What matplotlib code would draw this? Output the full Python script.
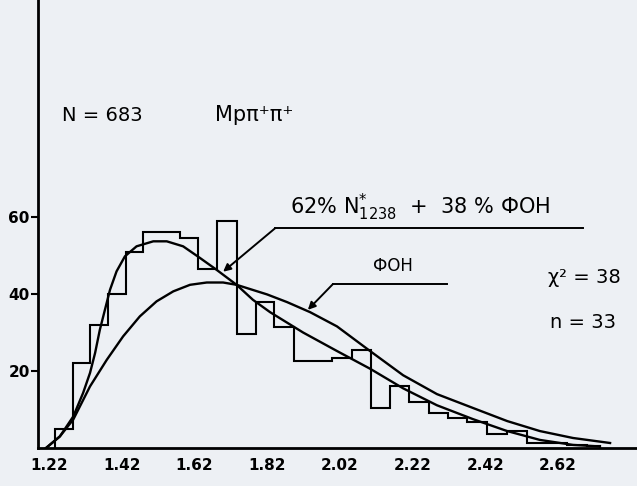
import numpy as np
import matplotlib
matplotlib.use("Agg")
import matplotlib.pyplot as plt


# histogram of M(p pi+ pi+), bin edges (GeV)
bin_edges = [1.237, 1.286, 1.333, 1.382, 1.432, 1.479, 1.528, 1.580, 1.630,
             1.682, 1.737, 1.789, 1.839, 1.894, 1.946, 1.998, 2.053, 2.106,
             2.158, 2.210, 2.265, 2.317, 2.370, 2.425, 2.480, 2.535, 2.590,
             2.645, 2.700, 2.735]
counts = [5, 22, 32, 40, 51, 56, 56, 54.5, 46.5, 59, 29.5, 38, 31.5, 22.5,
          22.5, 23.5, 25.5, 10.5, 16, 12, 9.2, 7.8, 6.8, 3.6, 4.4, 1.2, 1.3,
          0.9, 0.5]

# fit: 62% N*(1238) + 38% background
fit_m = [1.212, 1.250, 1.287, 1.314, 1.333, 1.347, 1.360, 1.374, 1.388, 1.406,
         1.429, 1.461, 1.507, 1.544, 1.589, 1.635, 1.681, 1.736, 1.781, 1.828,
         1.919, 2.012, 2.103, 2.194, 2.287, 2.386, 2.480, 2.570, 2.661, 2.735]
fit_n = [0, 3, 8.2, 14.3, 19.5, 24.7, 30.7, 35.9, 41.1, 45.9, 49.8, 52.4,
         53.7, 53.7, 52.4, 49.4, 46.3, 42.4, 38.5, 35.3, 30, 25.2, 20.6, 15.5,
         11.1, 7.5, 4.4, 2.1, 0.8, 0.4]

# background (phase space) curve
bg_m = [1.212, 1.250, 1.287, 1.333, 1.379, 1.424, 1.470, 1.516, 1.562, 1.608,
        1.654, 1.699, 1.736, 1.820, 1.875, 1.938, 2.012, 2.103, 2.194, 2.287,
        2.386, 2.480, 2.570, 2.661, 2.763]
bg_n = [0, 3, 7.4, 16, 22.9, 29, 34.2, 38.1, 40.7, 42.4, 43, 43, 42.4, 39.9,
        37.9, 35.3, 31.6, 25.2, 18.9, 14, 10.4, 7, 4.4, 2.6, 1.3]

x_ticks = [1.22, 1.42, 1.62, 1.82, 2.02, 2.22, 2.42, 2.62]
x_tick_labels = ["1.22", "1.42", "1.62", "1.82", "2.02", "2.22", "2.42", "2.62"]
y_ticks = [20, 40, 60]

paper = "#edf0f4"

fig = plt.figure(figsize=(6.37, 4.86), dpi=100, facecolor=paper)
ax = fig.add_axes([38 / 637, 38 / 486, 1 - 38 / 637, 448 / 486])
ax.set_facecolor(paper)

ax.stairs(counts, bin_edges, color="black", lw=1.5)
ax.plot(fit_m, fit_n, color="black", lw=1.7)
ax.plot(bg_m, bg_n, color="black", lw=1.7)

ax.set_xlim(1.19, 2.837)
ax.set_ylim(0, 116.4)

for s in ["top", "right"]:
    ax.spines[s].set_visible(False)
for s in ["left", "bottom"]:
    ax.spines[s].set_linewidth(2)

ax.set_xticks(x_ticks)
ax.set_xticklabels(x_tick_labels, fontsize=11, fontweight="bold")
ax.tick_params(axis="x", length=0, pad=7)
ax.set_yticks(y_ticks)
ax.set_yticklabels([str(v) for v in y_ticks], fontsize=11, fontweight="bold")
ax.tick_params(axis="y", length=5, width=1.5, pad=1)

# labels
ax.text(1.256, 86.5, "N = 683", fontsize=14, ha="left", va="center")
ax.text(1.677, 86.5, "Mpπ⁺π⁺", fontsize=15, ha="left", va="center")
ax.text(1.883, 62.5, r"62% $\mathregular{N^{*}_{1238}}$  +  38 % ФОН",
        fontsize=15, ha="left", va="center")
ax.text(2.111, 47.2, "ФОН", fontsize=12, ha="left", va="center")
ax.text(2.592, 44.2, "χ² = 38", fontsize=14, ha="left", va="center")
ax.text(2.598, 32.5, "n = 33", fontsize=14, ha="left", va="center")

# leader lines with arrows to the curves
arrow = dict(arrowstyle="-|>", color="black", lw=1.4, mutation_scale=11,
             shrinkA=0, shrinkB=0)
ax.annotate("", xy=(1.699, 45.8), xytext=(1.842, 57.1), arrowprops=arrow)
ax.plot([1.842, 2.689], [57.1, 57.1], color="black", lw=1.4)
ax.annotate("", xy=(1.932, 35.9), xytext=(2.001, 42.6), arrowprops=arrow)
ax.plot([2.001, 2.315], [42.6, 42.6], color="black", lw=1.4)

fig.savefig("out.png", dpi=100, facecolor=paper)
